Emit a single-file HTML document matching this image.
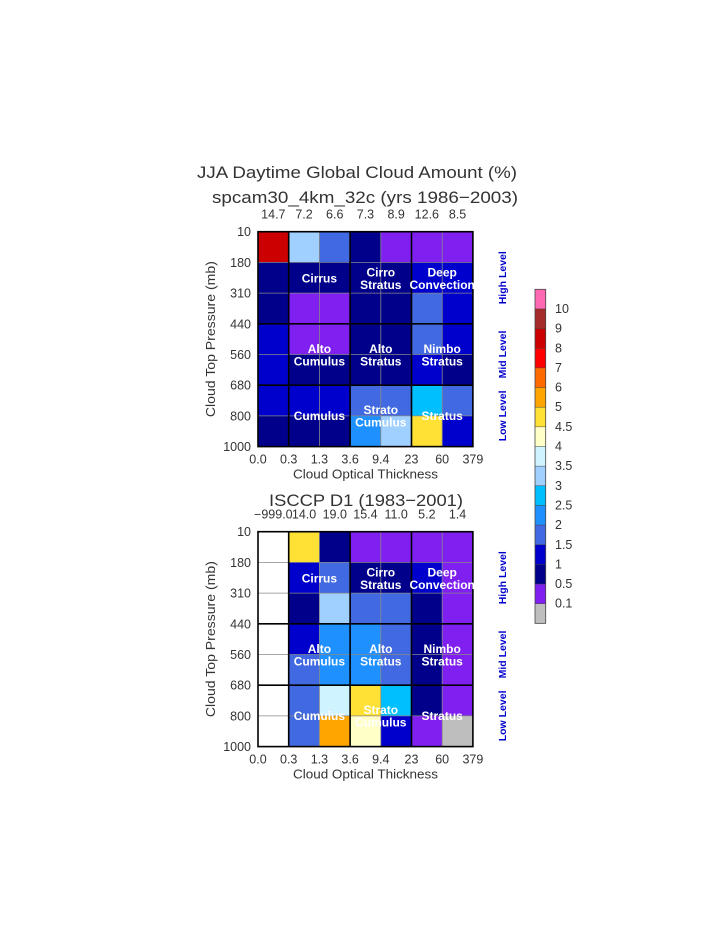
<!DOCTYPE html>
<html><head><meta charset="utf-8"><style>
html,body{margin:0;padding:0;background:#fff;width:723px;height:935px;overflow:hidden}
svg{display:block}
text{font-family:"Liberation Sans",sans-serif}
.t{fill:#333;font-size:17px}
.s{fill:#333;font-size:12.5px}
.w{fill:#fff;font-size:12px;font-weight:bold}
.b{fill:#0000cd;font-size:10.5px;font-weight:bold}
</style></head><body>
<svg id="s" width="723" height="935" xmlns="http://www.w3.org/2000/svg">
<text class="t" x="197" y="178" textLength="320" lengthAdjust="spacingAndGlyphs">JJA Daytime Global Cloud Amount (%)</text>
<text class="t" x="212" y="203" textLength="306" lengthAdjust="spacingAndGlyphs">spcam30_4km_32c (yrs 1986−2003)</text>
<text class="t" x="269" y="506" textLength="194" lengthAdjust="spacingAndGlyphs">ISCCP D1 (1983−2001)</text>
</svg>
<script>
(function(){
var S=document.getElementById('s'),NS='http://www.w3.org/2000/svg';
function el(t,a,txt){var e=document.createElementNS(NS,t);for(var k in a)e.setAttribute(k,a[k]);if(txt!=null)e.textContent=txt;S.appendChild(e);return e;}
var P='#8020f0',D='#00008b',M='#0000cd',R='#4169e1',DB='#1e90ff',C='#00bfff',L='#a0d0ff',LC='#d0f4ff',Y='#ffe135',LY='#ffffc8',O='#ffa500',G='#bebebe',W='#ffffff',DR='#cc0000';
var dTop=[[DR,L,R,D,P,P,P],[D,D,D,D,D,M,M],[D,P,P,D,D,R,M],[M,P,P,D,D,R,M],[M,D,D,D,D,M,D],[M,M,M,R,R,C,R],[D,D,D,DB,L,Y,M]];
var dBot=[[W,Y,D,P,P,P,P],[W,M,R,D,D,M,P],[W,D,L,R,R,D,P],[W,M,DB,DB,R,D,P],[W,R,DB,DB,R,D,P],[W,R,LC,Y,C,D,P],[W,R,O,LY,M,P,G]];
var x0=258,cw=30.7,rh=30.7;
function panel(y0,data,tot){
 for(var r=0;r<7;r++)for(var c=0;c<7;c++)el('rect',{x:x0+c*cw,y:y0+r*rh,width:cw+0.3,height:rh+0.3,fill:data[r][c]});
 for(var i=1;i<7;i++){el('line',{x1:x0+i*cw,y1:y0,x2:x0+i*cw,y2:y0+7*rh,stroke:'#888','stroke-width':0.8});el('line',{x1:x0,y1:y0+i*rh,x2:x0+7*cw,y2:y0+i*rh,stroke:'#888','stroke-width':0.8});}
 [1,3,5].forEach(function(i){el('line',{x1:x0+i*cw,y1:y0,x2:x0+i*cw,y2:y0+7*rh,stroke:'#000','stroke-width':1.6});});
 [3,5].forEach(function(i){el('line',{x1:x0,y1:y0+i*rh,x2:x0+7*cw,y2:y0+i*rh,stroke:'#000','stroke-width':1.6});});
 el('rect',{x:x0,y:y0,width:7*cw,height:7*rh,fill:'none',stroke:'#000','stroke-width':1.6});
 var yl=['10','180','310','440','560','680','800','1000'];
 for(var i=0;i<8;i++)el('text',{class:'s',x:251,y:y0+i*rh+4.5,'text-anchor':'end'},yl[i]);
 var xl=['0.0','0.3','1.3','3.6','9.4','23','60','379'];
 for(var i=0;i<8;i++)el('text',{class:'s',x:x0+i*cw,y:y0+7*rh+17,'text-anchor':'middle'},xl[i]);
 el('text',{class:'s',x:293,y:y0+7*rh+32,textLength:145,lengthAdjust:'spacingAndGlyphs'},'Cloud Optical Thickness');
 el('text',{class:'s',transform:'translate(215,'+(y0+3.5*rh+78)+') rotate(-90)',textLength:156,lengthAdjust:'spacingAndGlyphs'},'Cloud Top Pressure (mb)');
 for(var c=0;c<7;c++)el('text',{class:'s',x:x0+(c+0.5)*cw,y:y0-13,'text-anchor':'middle'},tot[c]);
 var cx1=x0+2*cw,cx2=x0+4*cw,cx3=x0+6*cw,yb=y0+rh;
 function lab(x,y,t){el('text',{class:'w',x:x,y:y,'text-anchor':'middle'},t);}
 lab(cx1,yb+20,'Cirrus');lab(cx2,yb+14,'Cirro');lab(cx2,yb+26.5,'Stratus');lab(cx3,yb+14,'Deep');lab(cx3,yb+26.5,'Convection');
 var ym=y0+4*rh;
 lab(cx1,ym-1.5,'Alto');lab(cx1,ym+11,'Cumulus');lab(cx2,ym-1.5,'Alto');lab(cx2,ym+11,'Stratus');lab(cx3,ym-1.5,'Nimbo');lab(cx3,ym+11,'Stratus');
 var yl6=y0+6*rh;
 lab(cx1,yl6+4,'Cumulus');lab(cx2,yl6-2,'Strato');lab(cx2,yl6+10.5,'Cumulus');lab(cx3,yl6+4,'Stratus');
 function side(cy,t){el('text',{class:'b',transform:'translate(506,'+cy+') rotate(-90)','text-anchor':'middle'},t);}
 side(y0+1.5*rh,'High Level');side(y0+4*rh,'Mid Level');side(y0+6*rh,'Low Level');
}
panel(231.7,dTop,['14.7','7.2','6.6','7.3','8.9','12.6','8.5']);
panel(531.7,dBot,['−999.0','14.0','19.0','15.4','11.0','5.2','1.4']);
var cb=['#ff69b4','#a52a2a','#cc0000','#ff0000','#ff6a00','#ffa500','#ffe135','#ffffc8','#d0f4ff','#a0d0ff','#00bfff','#1e90ff','#4169e1','#0000cd','#00008b','#8020f0','#bebebe'];
var cy0=289.3,ch=19.65;
for(var i=0;i<17;i++)el('rect',{x:535,y:cy0+i*ch,width:10.7,height:ch+0.2,fill:cb[i]});
for(var i=1;i<17;i++)el('line',{x1:535,y1:cy0+i*ch,x2:545.7,y2:cy0+i*ch,stroke:'#444','stroke-width':0.5});
el('rect',{x:535,y:cy0,width:10.7,height:17*ch,fill:'none',stroke:'#444','stroke-width':0.8});
var cl=['10','9','8','7','6','5','4.5','4','3.5','3','2.5','2','1.5','1','0.5','0.1'];
for(var i=0;i<16;i++)el('text',{class:'s',x:555,y:cy0+(i+1)*ch+4},cl[i]);
})();
</script>
</body></html>
